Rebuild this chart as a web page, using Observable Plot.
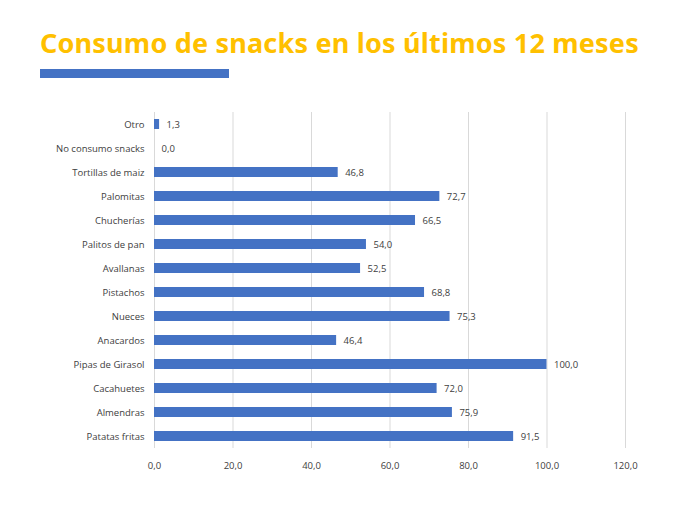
<!DOCTYPE html>
<html><head><meta charset="utf-8">
<script src="https://cdn.jsdelivr.net/npm/d3@7"></script>
<script src="https://cdn.jsdelivr.net/npm/@observablehq/plot@0.6"></script>
<style>
body{margin:0;background:#fff;font-family:"Open Sans",sans-serif;}
#wrap{position:relative;width:700px;height:505px;}
#title{position:absolute;left:40px;top:24px;font:bold 27px "Noto Sans",sans-serif;color:#FFC000;white-space:nowrap;letter-spacing:0.2px}
#rule{position:absolute;left:40px;top:69px;width:189px;height:9px;background:#4472C4}
#chart{position:absolute;left:0;top:100px}
</style></head><body>
<div id="wrap"><div id="title">Consumo de snacks en los últimos 12 meses</div><div id="rule"></div><div id="chart"></div></div>
<script>
const categories=["Otro","No consumo snacks","Tortillas de maiz","Palomitas","Chucherías","Palitos de pan","Avallanas","Pistachos","Nueces","Anacardos","Pipas de Girasol","Cacahuetes","Almendras","Patatas fritas"];
const values=[1.3,0.0,46.8,72.7,66.5,54.0,52.5,68.8,75.3,46.4,100.0,72.0,75.9,91.5];
const ticks=[0,20,40,60,80,100,120];
const data=categories.map((c,i)=>({c,v:values[i]}));
const fmt=v=>v.toFixed(1).replace(".",",");
const plot=Plot.plot({
  width:700,height:380,marginLeft:154,marginRight:75,marginTop:12,marginBottom:32,
  style:{fontFamily:"Open Sans",fontSize:"9.5px",color:"#404040"},
  x:{domain:[0,120],ticks,tickFormat:fmt,tickSize:0,tickPadding:14,label:null},
  y:{domain:categories,paddingInner:0.58,paddingOuter:0.21,tickSize:0,tickPadding:10,label:null},
  marks:[
    Plot.gridX(ticks,{stroke:"#d9d9d9",strokeOpacity:1}),
    Plot.barX(data,{x:"v",y:"c",fill:"#4472C4"}),
    Plot.text(data,{x:"v",y:"c",text:d=>fmt(d.v),dx:7,textAnchor:"start",fill:"#404040",fontSize:9.5})
  ]
});
document.getElementById("chart").appendChild(plot);
</script></body></html>
